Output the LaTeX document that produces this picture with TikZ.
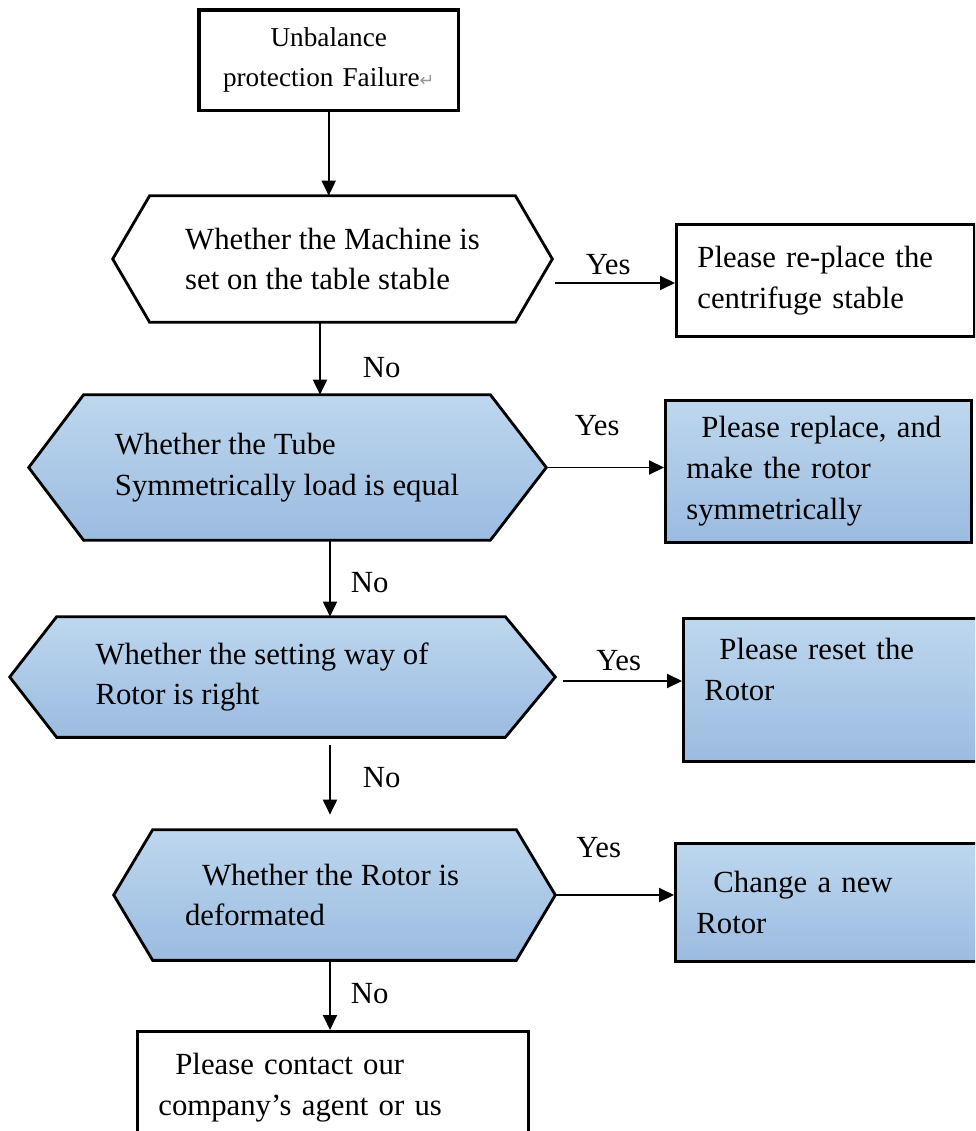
\documentclass[tikz,border=0pt]{standalone}
\usepackage{fontspec}
\setmainfont{Liberation Serif}
\newfontfamily\symfont{DejaVu Sans}
\usetikzlibrary{arrows.meta,backgrounds}
\definecolor{hextop}{RGB}{189,215,238}
\definecolor{hexbot}{RGB}{155,187,224}
\definecolor{markgray}{RGB}{150,150,150}

\begin{document}
\begin{tikzpicture}[x=0.02cm, y=-0.02cm, >={Triangle[length=0.3cm,width=0.28cm]}, font=\fontsize{17.5}{23.3}\selectfont,
	box/.style={draw, line width=1.6pt, inner xsep=0.42cm, inner ysep=0pt, align=left, anchor=north west},
	cond/.style={draw, line width=1.6pt, line join=miter},
	bluefill/.style={top color=hextop, bottom color=hexbot},
	flow/.style={->, line width=1.1pt},
	tag/.style={inner sep=0pt}]
		\useasboundingbox (0,0) rectangle (975,1131);
		\clip (0,0) rectangle (975,1131);
		% Start box
		\node[box, line width=2pt, text width=4.36cm, minimum height=2.02cm, align=center, font=\fontsize{15.5}{22.7}\selectfont] (fail) at (197,8) {Unbalance\\protection Failure{\symfont\color{markgray}\fontsize{10}{10}\selectfont ↵}};
		% Questions (hexagons drawn on the background layer)
		\node[minimum width=7.3cm, minimum height=2.52cm, align=left, inner sep=0pt] (stable) at (332.5,259) {Whether the Machine is\\set on the table stable};
		\node[minimum width=8.12cm, minimum height=2.9cm, align=left, inner sep=0pt] (load) at (287,467.5) {Whether the Tube\\Symmetrically load is equal};
		\node[minimum width=8.96cm, minimum height=2.4cm, align=left, inner sep=0pt] (setting) at (281,677) {Whether the setting way of\hspace*{0.76cm}\\Rotor is right};
		\node[minimum width=7.26cm, minimum height=2.6cm, align=left, inner sep=0pt] (deform) at (334.5,895) {\hspace*{0.34cm}Whether the Rotor is\hspace*{0.5cm}\\deformated};
		% Answers
		\node[box, text width=5.12cm, minimum height=2.24cm] (replace) at (675,223) {Please re-place the\\centrifuge stable};
		\node[box, bluefill, text width=5.28cm, minimum height=2.84cm] (symm) at (664,399) {\hspace*{0.3cm}Please replace, and\\make the rotor\\symmetrically};
		\node[box, bluefill, text width=5.66cm, minimum height=2.86cm] (reset) at (682,617) {\hspace*{0.3cm}Please reset the\\Rotor\\~};
		\node[box, bluefill, text width=5.8cm, minimum height=2.36cm] (newrotor) at (674,842) {\hspace*{0.34cm}Change a new\\Rotor};
		\node[box, text width=6.98cm, minimum height=2.24cm] (contact) at (136,1030) {\hspace*{0.34cm}Please contact our\\company’s agent or us};
		\begin{scope}[on background layer]
			\draw[cond, fill=white] ([xshift=-0.74cm]stable.west) -- (stable.north west) -- (stable.north east) -- ([xshift=0.74cm]stable.east) -- (stable.south east) -- (stable.south west) -- cycle;
			\draw[cond, bluefill] ([xshift=-1.1cm]load.west) -- (load.north west) -- (load.north east) -- ([xshift=1.12cm]load.east) -- (load.south east) -- (load.south west) -- cycle;
			\draw[cond, bluefill] ([xshift=-0.94cm]setting.west) -- (setting.north west) -- (setting.north east) -- ([xshift=1cm]setting.east) -- (setting.south east) -- (setting.south west) -- cycle;
			\draw[cond, bluefill] ([xshift=-0.78cm]deform.west) -- (deform.north west) -- (deform.north east) -- ([xshift=0.78cm]deform.east) -- (deform.south east) -- (deform.south west) -- cycle;
		\end{scope}
		% No branches
		\draw[flow] (fail.south) -- (fail.south |- stable.north);
		\coordinate (no1) at ([xshift=-0.25cm]stable.south);
		\draw[flow] (no1) -- (no1 |- load.north) node[tag, pos=0.63, right=0.84cm] (nolbl1) {No};
		\coordinate (no2) at ([xshift=0.86cm]load.south);
		\draw[flow] (no2) -- (no2 |- setting.north) node[tag, pos=0.56, right=0.4cm] (nolbl2) {No};
		\coordinate (no3) at ([xshift=0.98cm, yshift=-0.16cm]setting.south);
		\draw[flow, shorten >=0.3cm] (no3) -- (no3 |- deform.north) node[tag, pos=0.38, right=0.64cm] (nolbl3) {No};
		\coordinate (no4) at ([xshift=-0.09cm]deform.south);
		\draw[flow] (no4) -- (no4 |- contact.north) node[tag, pos=0.47, right=0.4cm] (nolbl4) {No};
		% Yes branches
		\coordinate (yes1) at ([xshift=0.8cm, yshift=-0.48cm]stable.east);
		\draw[flow] (yes1) -- (yes1 -| replace.west) node[tag, midway, above=0.14cm, xshift=-0.14cm] (yeslbl1) {Yes};
		\coordinate (yes2) at ([xshift=1.12cm]load.east);
		\draw[flow] (yes2) -- (yes2 -| symm.west) node[tag, midway, above=0.62cm, xshift=-0.16cm] (yeslbl2) {Yes};
		\coordinate (yes3) at ([xshift=1.16cm, yshift=-0.08cm]setting.east);
		\draw[flow] (yes3) -- (yes3 -| reset.west) node[tag, midway, above=0.18cm, xshift=-0.08cm] (yeslbl3) {Yes};
		\coordinate (yes4) at ([xshift=0.78cm]deform.east);
		\draw[flow] (yes4) -- (yes4 -| newrotor.west) node[tag, midway, above=0.72cm, xshift=-0.32cm] (yeslbl4) {Yes};
	\end{tikzpicture}
\end{document}
